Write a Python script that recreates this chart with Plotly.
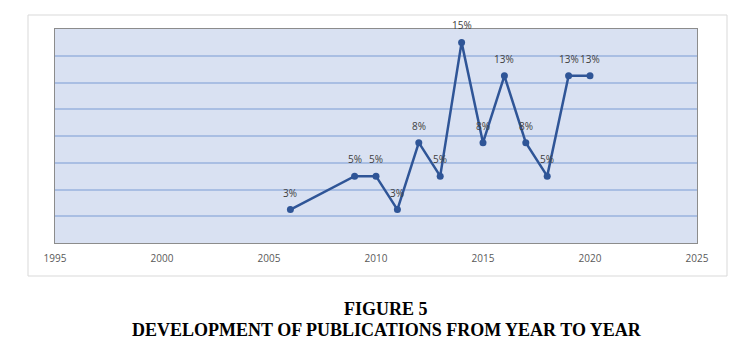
import plotly.graph_objects as go

years = [2006, 2009, 2010, 2011, 2012, 2013, 2014, 2015, 2016, 2017, 2018, 2019, 2020]
shares = [0.025, 0.05, 0.05, 0.025, 0.075, 0.05, 0.15, 0.075, 0.125, 0.075, 0.05, 0.125, 0.125]
labels = ["3%", "5%", "5%", "3%", "8%", "5%", "15%", "8%", "13%", "8%", "5%", "13%", "13%"]
x_ticks = [1995, 2000, 2005, 2010, 2015, 2020, 2025]
caption_lines = ["FIGURE 5", "DEVELOPMENT OF PUBLICATIONS FROM YEAR TO YEAR"]

L, R, T, B = 55, 59, 29, 108
W, H = 756, 351
pw, ph = W - L - R, H - T - B

def px(x):
    return (x - L) / pw

def py(y):
    return (H - B - y) / ph

fig = go.Figure()
fig.add_trace(go.Scatter(
    x=years, y=shares, mode="lines+markers",
    line=dict(color="#2F5597", width=2.5),
    marker=dict(color="#2F5597", size=7),
    cliponaxis=False, hoverinfo="skip",
))

annos = []
for xv, yv, t in zip(years, shares, labels):
    annos.append(dict(x=xv, y=yv, xref="x", yref="y", text=t, showarrow=False,
                      xanchor="center", yanchor="middle", yshift=17,
                      font=dict(family="Open Sans, DejaVu Sans", size=10, color="#404040")))

annos.append(dict(text="<b>%s</b>" % caption_lines[0], xref="paper", yref="paper",
                  x=px(386), y=py(309), showarrow=False, xanchor="center", yanchor="middle",
                  font=dict(family="Liberation Serif", size=18, color="black")))
annos.append(dict(text="<b>%s</b>" % caption_lines[1], xref="paper", yref="paper",
                  x=px(387), y=py(330), showarrow=False, xanchor="center", yanchor="middle",
                  font=dict(family="Liberation Serif", size=18, color="black")))

fig.update_layout(
    width=W, height=H,
    margin=dict(l=L, r=R, t=T, b=B),
    paper_bgcolor="white", plot_bgcolor="#D9E1F2",
    showlegend=False,
    xaxis=dict(range=[1995, 2025], tickvals=x_ticks, showgrid=False, zeroline=False,
               showline=True, linecolor="#8C8C8C", linewidth=1, mirror=True,
               tickfont=dict(family="Open Sans, DejaVu Sans", size=10, color="#595959"),
               ticks="", ticklabelstandoff=6),
    yaxis=dict(range=[0, 0.16], dtick=0.02, showticklabels=False, zeroline=False,
               showgrid=True, gridcolor="#A9BEE3", gridwidth=1.5,
               showline=True, linecolor="#8C8C8C", linewidth=1, mirror=True, ticks=""),
    shapes=[dict(type="rect", xref="paper", yref="paper",
                 x0=px(28), x1=px(727), y0=py(276), y1=py(15),
                 line=dict(color="#D9D9D9", width=1), fillcolor="rgba(0,0,0,0)",
                 layer="below")],
    annotations=annos,
)

fig.write_html("out.html")
